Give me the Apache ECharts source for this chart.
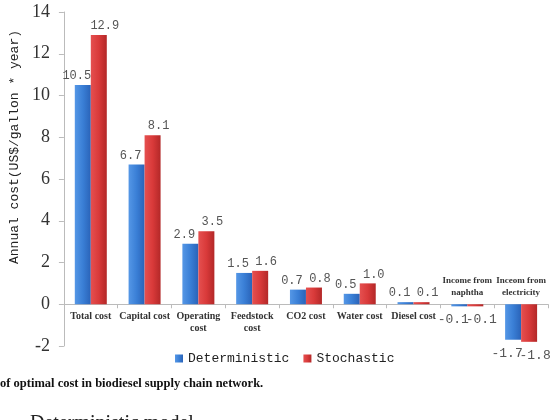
<!DOCTYPE html>
<html lang="en" style="height: 100%">
<head>
	<meta charset="utf-8">
	<title>Optimal cost comparison</title>
</head>
<body style='height: 100%; margin: 0; background: #fff'>
<div id='container' style='width: 556px; height: 420px'></div>
<script type='text/javascript' src='https://cdn.jsdelivr.net/npm/echarts@6/dist/echarts.min.js'></script>
<script type="text/javascript">

	// categories and values
	var categories = ['Total cost', 'Capital cost', 'Operating\ncost', 'Feedstock\ncost', 'CO2 cost',
		'Water cost', 'Diesel cost', 'Income from\nnaphtha', 'Inceom from\nelectricity'];
	var deterministic = [10.5, 6.7, 2.9, 1.5, 0.7, 0.5, 0.1, -0.1, -1.7];
	var stochastic = [12.9, 8.1, 3.5, 1.6, 0.8, 1.0, 0.1, -0.1, -1.8];
	var yTicks = [-2, 0, 2, 4, 6, 8, 10, 12, 14];

	var gridTop = 12, gridBottom = 74, chartH = 420;
	var yMin = yTicks[0], yMax = yTicks[yTicks.length - 1];
	// distance of the zero line above the grid bottom, so the category axis sits on it
	var zeroOffset = (chartH - gridTop - gridBottom) * (0 - yMin) / (yMax - yMin);

	// negative bars: label under the bar, category label above the axis
	function toItems(arr) {
		return arr.map(function (v) {
			if (v < 0) return { value: v, label: { position: 'bottom', distance: 7, fontSize: 13 } };
			return v;
		});
	}
	var catItems = categories.map(function (c, i) {
		if (deterministic[i] < 0) {
			return { value: c, textStyle: { verticalAlign: 'bottom', padding: [0, 0, 12, 0], fontSize: 9 } };
		}
		return c;
	});

	function grad(c0, c1, c2) {
		return new echarts.graphic.LinearGradient(0, 0, 1, 0, [
			{ offset: 0, color: c0 }, { offset: 0.5, color: c1 }, { offset: 1, color: c2 }
		]);
	}

	function labelStyle(dx) {
		return {
			show: true,
			position: 'top',
			distance: 3,
			offset: [dx, 0],
			color: '#555',
			fontFamily: 'Liberation Mono',
			fontSize: 12,
			formatter: function (p) { return p.value.toFixed(1); }
		};
	}

	var dom = document.getElementById('container');
	var myChart = echarts.init(dom, null, { renderer: 'canvas' });

	var option = {
		animation: false,
		backgroundColor: '#fff',
		color: ['#3a7fd6', '#d93a3a'],
		grid: { left: 58, right: 8, top: gridTop, bottom: gridBottom },
		legend: {
			data: ['Deterministic', 'Stochastic'],
			left: 170,
			top: 347,
			itemWidth: 8,
			itemHeight: 8,
			itemGap: 14,
			icon: 'rect',
			textStyle: { fontFamily: 'Liberation Mono', fontSize: 13, color: '#222' }
		},
		title: [
			{
				text: 'of optimal cost in biodiesel supply chain network.',
				left: 0, top: 377, padding: 0,
				textStyle: { fontFamily: 'Liberation Serif', fontSize: 12.5, fontWeight: 'bold', color: '#111' }
			},
			{
				text: 'Deterministic model',
				left: 30, top: 414, padding: 0,
				textStyle: { fontFamily: 'Liberation Serif', fontSize: 20, fontWeight: 'normal', color: '#222' }
			}
		],
		xAxis: {
			type: 'category',
			data: catItems,
			position: 'bottom',
			offset: -zeroOffset,
			axisLine: { onZero: false, lineStyle: { color: '#bbb' } },
			axisTick: { show: true, length: 4, lineStyle: { color: '#bbb' } },
			axisLabel: {
				interval: 0,
				margin: 6,
				fontFamily: 'Liberation Serif',
				fontWeight: 'bold',
				fontSize: 10,
				lineHeight: 12,
				color: '#333'
			}
		},
		yAxis: {
			type: 'value',
			min: yMin,
			max: yMax,
			interval: 2,
			name: 'Annual cost(US$/gallon * year)',
			nameLocation: 'middle',
			nameGap: 42,
			nameTextStyle: { fontFamily: 'Liberation Mono', fontSize: 13, color: '#222', padding: [0, 0, 0, 64] },
			axisLine: { show: true, lineStyle: { color: '#bbb' } },
			axisTick: { show: true, length: 5, lineStyle: { color: '#bbb' } },
			splitLine: { show: false },
			axisLabel: { fontFamily: 'Liberation Serif', fontSize: 18, color: '#333', margin: 14 }
		},
		series: [
			{
				name: 'Deterministic',
				type: 'bar',
				barWidth: 16,
				barGap: '0%',
				data: toItems(deterministic),
				itemStyle: { color: grad('#5597e6', '#3a7fd6', '#2a63b8') },
				label: labelStyle(-6)
			},
			{
				name: 'Stochastic',
				type: 'bar',
				barWidth: 16,
				data: toItems(stochastic),
				itemStyle: { color: grad('#e55050', '#d93a3a', '#b32828') },
				label: labelStyle(6)
			}
		]
	};

	myChart.setOption(option);
	window.addEventListener('resize', myChart.resize);
</script>
</body>
</html>
